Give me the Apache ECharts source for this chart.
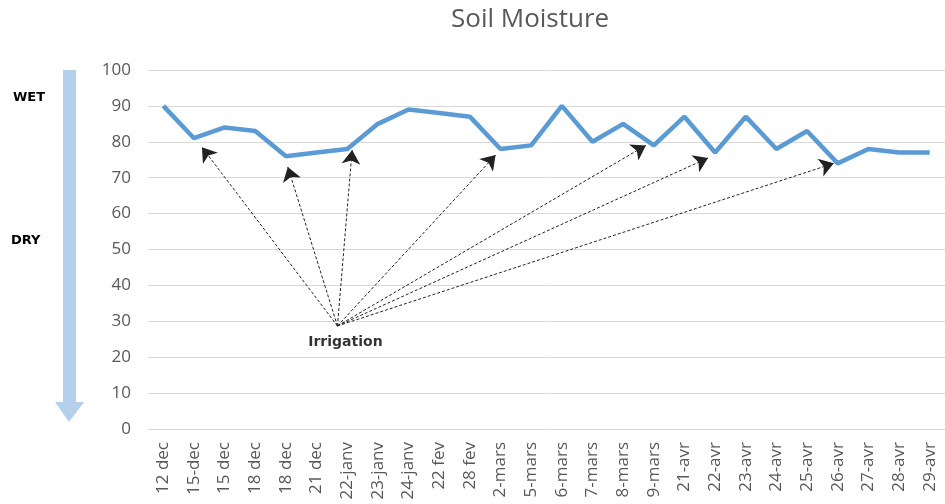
<!DOCTYPE html>
<html>
<head>
<meta charset="utf-8">
<script src="https://cdn.jsdelivr.net/npm/echarts@6/dist/echarts.min.js"></script>
<style>
  html, body { margin: 0; padding: 0; background: #fff; }
  #chart { width: 945px; height: 504px; }
</style>
</head>
<body>
<div id="chart"></div>
<script>
// dates (as written in the sheet)
var dates = ['12 dec', '15-dec', '15 dec', '18 dec', '18 dec', '21 dec', '22-janv', '23-janv', '24-janv',
  '22 fev', '28 fev', '2-mars', '5-mars', '6-mars', '7-mars', '8-mars', '9-mars', '21-avr', '22-avr',
  '23-avr', '24-avr', '25-avr', '26-avr', '27-avr', '28-avr', '29-avr'];
var moisture = [90, 81, 84, 83, 76, 77, 78, 85, 89, 88, 87, 78, 79, 90, 80, 85, 79, 87, 77, 87, 78, 83, 74, 78, 77, 77];
var yTicks = [0, 10, 20, 30, 40, 50, 60, 70, 80, 90, 100];

// irrigation annotation: origin and arrow tips, in (category index, moisture) units
var irrigationFrom = [5.68, 28.7];
var irrigationTo = [[1.26, 78.5], [4.06, 73], [6.16, 77.7], [10.84, 76.3], [15.74, 79], [17.77, 75.5], [21.87, 74]];

var chart = echarts.init(document.getElementById('chart'));

var arrows = irrigationTo.map(function (p) {
  return { coords: [irrigationFrom, p] };
});

chart.setOption({
  animation: false,
  textStyle: { fontFamily: 'Open Sans' },
  title: {
    text: 'Soil Moisture',
    left: 446,
    top: 2,
    textStyle: { fontSize: 26, fontWeight: 'normal', color: '#595959', fontFamily: 'Open Sans' }
  },
  grid: { left: 148, right: -9, top: 70, bottom: 75 },
  xAxis: [{
    type: 'category',
    data: dates,
    boundaryGap: true,
    axisLine: { lineStyle: { color: '#d9d9d9' } },
    axisTick: { show: false },
    axisLabel: { rotate: 90, interval: 0, fontSize: 17, color: '#595959', margin: 13 }
  }, {
    type: 'value',
    min: -0.5,
    max: dates.length - 0.5,
    show: false
  }],
  yAxis: {
    type: 'value',
    min: yTicks[0],
    max: yTicks[yTicks.length - 1],
    interval: 10,
    axisLine: { show: false },
    axisTick: { show: false },
    splitLine: { lineStyle: { color: '#d9d9d9' } },
    axisLabel: { fontSize: 17, color: '#595959', margin: 17 }
  },
  series: [{
    name: 'Soil Moisture',
    type: 'line',
    data: moisture,
    showSymbol: false,
    lineStyle: { color: '#5b9bd5', width: 4.5 },
    z: 3
  }, {
    type: 'lines',
    coordinateSystem: 'cartesian2d',
    xAxisIndex: 1,
    symbol: ['none', 'arrow'],
    symbolSize: 14,
    lineStyle: { color: '#222', width: 1, type: [3, 2], opacity: 1 },
    itemStyle: { color: '#000' },
    data: arrows,
    z: 4
  }, {
    type: 'scatter',
    xAxisIndex: 1,
    symbolSize: 0,
    data: [irrigationFrom],
    label: {
      show: true,
      position: 'bottom',
      distance: 9,
      offset: [8, 0],
      formatter: 'Irrigation',
      fontSize: 14,
      fontWeight: 'bold',
      color: '#000',
      fontFamily: 'DejaVu Sans'
    }
  }],
  graphic: [
    { type: 'rect', shape: { x: 63, y: 70, width: 13, height: 334 }, style: { fill: '#b4d0ea' } },
    { type: 'polygon', shape: { points: [[55, 402], [84, 402], [69, 422]] }, style: { fill: '#b4d0ea' } },
    { type: 'text', left: 13, top: 91, style: { text: 'WET', fontSize: 13, fontWeight: 'bold', fill: '#000', fontFamily: 'DejaVu Sans' } },
    { type: 'text', left: 11, top: 234, style: { text: 'DRY', fontSize: 13, fontWeight: 'bold', fill: '#000', fontFamily: 'DejaVu Sans' } }
  ]
});
</script>
</body>
</html>
